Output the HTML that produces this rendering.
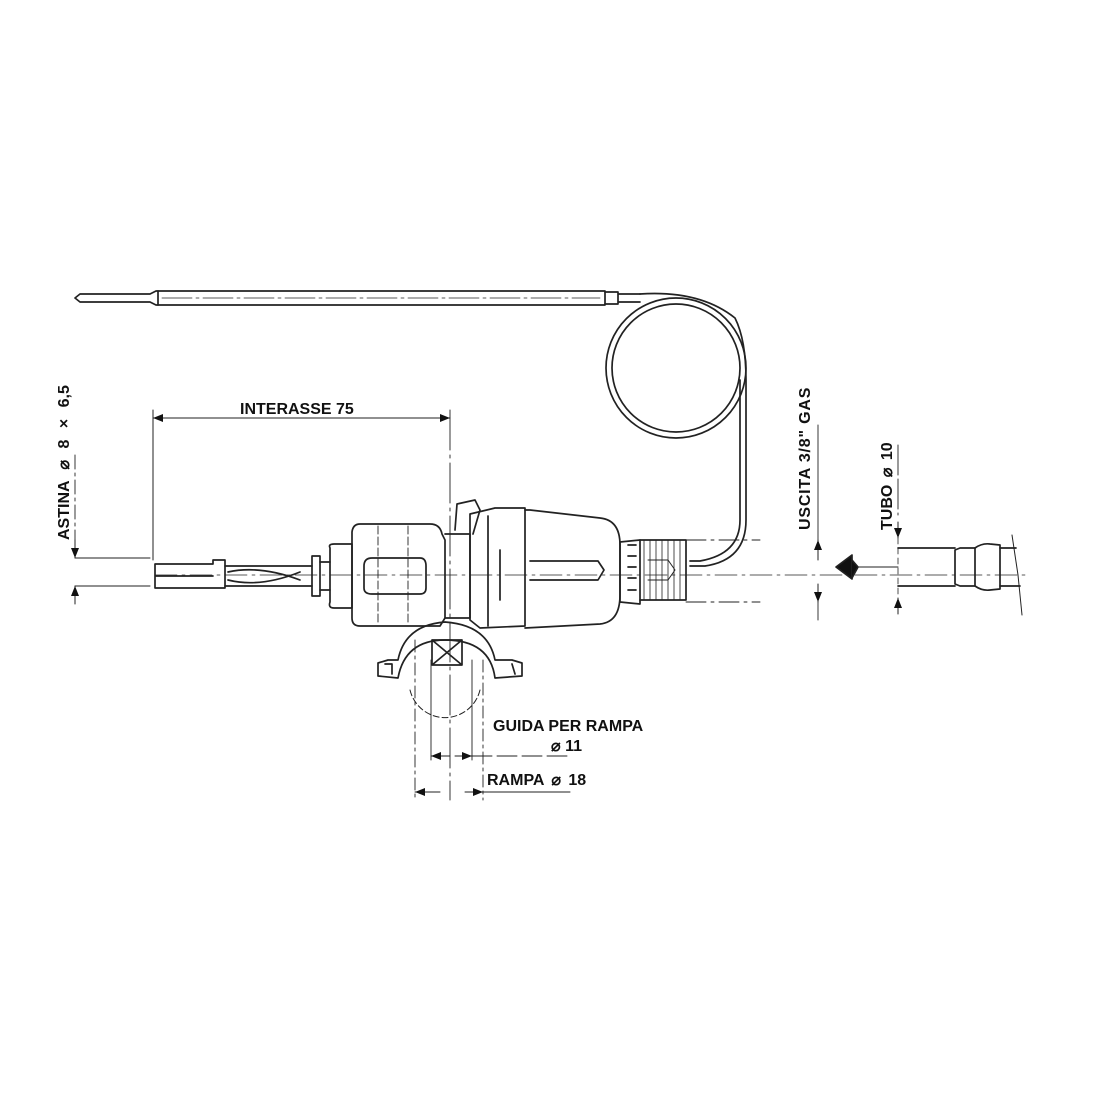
<!DOCTYPE html>
<html><head><meta charset="utf-8"><style>
html,body{margin:0;padding:0;background:#fff}
svg{display:block}
text{font-family:"Liberation Sans",Arial,sans-serif;font-weight:bold;fill:#111}
</style></head><body>
<svg width="1100" height="1100" viewBox="0 0 1100 1100" xmlns="http://www.w3.org/2000/svg">
<defs>
<marker id="a" viewBox="0 0 10 10" refX="10" refY="5" markerWidth="12" markerHeight="10" markerUnits="userSpaceOnUse" orient="auto-start-reverse"><path d="M0,1 L10,5 L0,9z" fill="#111"/></marker>
</defs>
<g fill="none" stroke="#222" stroke-width="1.7" stroke-linecap="round" stroke-linejoin="round">
<path d="M75,298 L80,294 L150,294 L156,291 L158,291 L158,305 L156,305 L150,302 L80,302 Z"/>
<path d="M158,291 L605,291 L605,305 L158,305"/>
<path d="M162,298 L600,298" stroke-width="0.8" stroke-dasharray="30 4 3 4"/>
<path d="M605,292 L618,292 L618,304 L605,304 M618,294 L640,294 M618,302 L640,302"/>
<circle cx="676" cy="368" r="70"/>
<circle cx="676" cy="368" r="64"/>
<path d="M640,294 Q700,290 735,318 Q746,340 746,380 L746,520 Q746,560 705,566 L690,566"/>
<path d="M740,380 L740,520 Q740,554 700,561 L690,561"/>
<path d="M153,418 L450,418" stroke-width="1" marker-start="url(#a)" marker-end="url(#a)"/>
<path d="M153,410 L153,560" stroke-width="1"/>
<path d="M450,410 L450,800" stroke-width="0.9" stroke-dasharray="40 5 3 5"/>
<path d="M75,455 L75,540" stroke-width="0.9" stroke-dasharray="14 4 3 4"/>
<path d="M75,540 L75,558" stroke-width="1" marker-end="url(#a)"/>
<path d="M75,604 L75,586" stroke-width="1" marker-end="url(#a)"/>
<path d="M75,558 L150,558 M75,586 L150,586" stroke-width="1"/>
<path d="M155,564 L213,564 L213,560 L225,560 L225,588 L155,588 Z M155,576 L213,576"/>
<path d="M225,566 L312,566 M225,586 L312,586 M228,572 Q260,565 300,580 M228,580 Q260,588 300,572"/>
<path d="M312,556 L320,556 L320,596 L312,596 Z"/>
<path d="M320,562 L330,562 M320,590 L330,590"/>
<path d="M330,548 Q328,544 334,544 L352,544 L352,608 L334,608 Q328,608 330,602 Z"/>
<path d="M352,532 Q353,524 360,524 L430,524 Q440,524 442,534 L445,540 L445,618 L440,626 L360,626 Q352,626 352,618 Z"/>
<path d="M364,566 Q364,558 372,558 L420,558 Q426,558 426,566 L426,588 Q426,594 420,594 L372,594 Q364,594 364,588 Z"/>
<path d="M378,526 L378,624 M408,526 L408,624" stroke-width="0.9" stroke-dasharray="8 3"/>
<path d="M445,534 L470,534 L470,618 L445,618"/>
<path d="M455,530 L457,504 L475,500 L480,510 L473,534"/>
<path d="M470,514 L495,508 L525,508 L525,626 L480,628 L470,620 Z"/>
<path d="M488,516 L488,626 M500,550 L500,600"/>
<path d="M525,510 L530,510 L600,518 Q620,520 620,545 L620,595 Q620,622 600,624 L525,628"/>
<path d="M530,561 L598,561 L604,570 L598,580 L530,580"/>
<path d="M620,542 L640,540 L640,604 L620,602 Z"/>
<path d="M628,545 L636,545 M628,556 L636,556 M628,567 L636,567 M628,578 L636,578 M628,590 L636,590"/>
<path d="M640,540 L686,540 L686,600 L640,600"/>
<path d="M644,540 L644,600 M650,540 L650,600 M656,540 L656,600 M662,540 L662,600 M668,540 L668,600 M674,540 L674,600 M680,540 L680,600" stroke-width="0.8"/>
<path d="M648,560 L668,560 L675,570 L668,580 L648,580" stroke-width="1"/>
<path d="M686,540 L760,540 M686,602 L760,602" stroke-width="0.9" stroke-dasharray="20 5 3 5"/>
<path d="M155,575 L1030,575" stroke-width="0.7" stroke-dasharray="22 5 3 5"/>
<path d="M378,663 L388,660 L398,660 Q405,625 445,622 Q488,625 495,660 L512,660 L522,663 L522,676 L495,678 Q490,640 445,640 Q405,640 398,678 L378,676 Z"/>
<path d="M385,664 L392,664 L392,674 M512,664 L515,674"/>
<path d="M432,640 L462,640 L462,665 L432,665 Z M432,640 L462,665 M462,640 L432,665"/>
<path d="M410,690 A36,36 0 0 0 480,690" stroke-width="1" stroke-dasharray="6 3"/>
<path d="M415,640 L415,800 M483,660 L483,800" stroke-width="0.9" stroke-dasharray="12 4 3 4"/>
<path d="M431,660 L431,760 M472,660 L472,760" stroke-width="0.9"/>
<path d="M450,756 L431,756" stroke-width="1" marker-end="url(#a)"/>
<path d="M455,756 L472,756" stroke-width="1" marker-end="url(#a)"/>
<path d="M472,756 L570,756" stroke-width="0.9" stroke-dasharray="20 5"/>
<path d="M440,792 L415,792" stroke-width="1" marker-end="url(#a)"/>
<path d="M465,792 L483,792 L570,792" stroke-width="1"/>
<path d="M466,792 L483,792" stroke-width="1" marker-end="url(#a)"/>
<path d="M818,425 L818,540" stroke-width="0.9"/>
<path d="M818,560 L818,540" stroke-width="1" marker-end="url(#a)"/>
<path d="M818,584 L818,602" stroke-width="1" marker-end="url(#a)"/>
<path d="M818,602 L818,620" stroke-width="0.9"/>
<path d="M848,567 L898,567" stroke-width="1"/>
<path d="M836,567 L852,555 L852,579 Z" fill="#111"/>
<path d="M852,560 L858,567 L852,578" fill="#111"/>
<path d="M898,445 L898,515" stroke-width="0.9" stroke-dasharray="30 4"/>
<path d="M898,522 L898,538" stroke-width="1" marker-end="url(#a)"/>
<path d="M898,614 L898,598" stroke-width="1" marker-end="url(#a)"/>
<path d="M898,538 L898,598" stroke-width="0.8" stroke-dasharray="6 4"/>
<path d="M898,548 L955,548 M898,586 L955,586"/>
<path d="M955,550 L960,548 L975,548 L975,586 L960,586 L955,584 Z"/>
<path d="M975,548 Q982,543 990,544 L1000,545 L1000,589 L990,590 Q982,591 975,586"/>
<path d="M1000,548 L1016,548 M1000,586 L1020,586"/>
<path d="M1012,535 L1018,575 L1022,615" stroke-width="1"/>
</g>
<text x="240" y="414" font-size="16">INTERASSE 75</text>
<text transform="translate(69,540) rotate(-90)" font-size="16" word-spacing="7">ASTINA ⌀ 8 × 6,5</text>
<text transform="translate(810,530) rotate(-90)" font-size="16" letter-spacing="0.8">USCITA 3/8" GAS</text>
<text transform="translate(892,530) rotate(-90)" font-size="16" word-spacing="3">TUBO ⌀ 10</text>
<text x="493" y="731" font-size="16">GUIDA PER RAMPA</text>
<text x="551" y="751" font-size="16">⌀ 11</text>
<text x="487" y="785" font-size="16" word-spacing="3">RAMPA ⌀ 18</text>
</svg>
</body></html>
